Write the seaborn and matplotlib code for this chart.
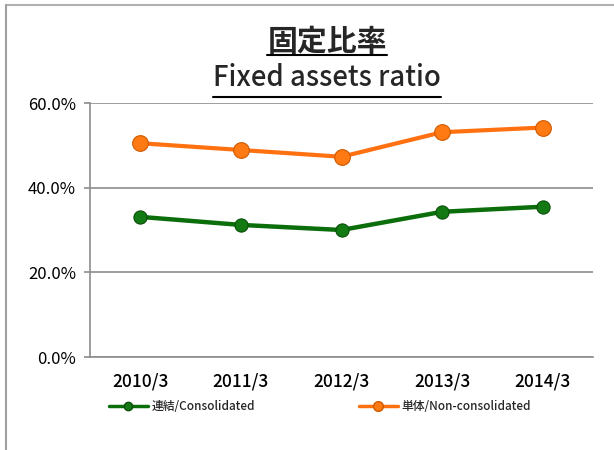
import matplotlib
matplotlib.use("Agg")
import matplotlib.pyplot as plt
from matplotlib.lines import Line2D
from matplotlib.ticker import FuncFormatter
import seaborn as sns
import pandas as pd

periods = ["2010/3", "2011/3", "2012/3", "2013/3", "2014/3"]
consolidated = [33.1, 31.2, 30.0, 34.3, 35.5]
non_consolidated = [50.5, 48.9, 47.3, 53.1, 54.2]
label_cons = "連結/Consolidated"
label_non = "単体/Non-consolidated"
title_jp = "固定比率"
title_en = "Fixed assets ratio"

sns.set_theme(style="white")
fam = ["Noto Sans CJK JP", "DejaVu Sans"]
plt.rcParams["font.family"] = fam

df = pd.DataFrame({
    "period": periods * 2,
    "value": consolidated + non_consolidated,
    "series": [label_cons] * len(periods) + [label_non] * len(periods),
})

fig = plt.figure(figsize=(6.14, 4.5), dpi=100)
ax = fig.add_axes([90 / 614, 1 - 357 / 450, (593 - 90) / 614, (357 - 103) / 450])

styles = {
    label_cons: dict(color="#0b6e0b", mfc="#137a13", mec="#0a4f0a", ms=9.5, lw=3.2),
    label_non: dict(color="#ff7010", mfc="#ff7a12", mec="#d05a00", ms=11.3, lw=3.0),
}
for name in [label_cons, label_non]:
    st = styles[name]
    sub = df[df["series"] == name]
    sns.lineplot(data=sub, x="period", y="value", ax=ax, sort=False,
                 color=st["color"], lw=st["lw"], marker="o", markersize=st["ms"],
                 markerfacecolor=st["mfc"], markeredgecolor=st["mec"], markeredgewidth=0.8,
                 label=name, legend=False)

ax.set_xlim(-0.5, len(periods) - 0.5)
ax.set_ylim(0, 60)
ax.set_yticks([0, 20, 40, 60])
ax.yaxis.set_major_formatter(FuncFormatter(lambda v, p: f"{v:.1f}%"))
ax.set_xlabel("")
ax.set_ylabel("")
ax.grid(axis="y", color="#8c8c8c", lw=1.2)
ax.set_axisbelow(True)
for s in ["top", "right"]:
    ax.spines[s].set_visible(False)
for s in ["left", "bottom"]:
    ax.spines[s].set_color("#8c8c8c")
    ax.spines[s].set_linewidth(1.2)
ax.tick_params(axis="y", left=True, length=4, color="#8c8c8c", width=1.2, pad=6)
ax.tick_params(axis="x", bottom=False, pad=5)
for t in ax.get_yticklabels():
    t.set_fontsize(12)
    t.set_color("black")
for t in ax.get_xticklabels():
    t.set_fontsize(12.5)
    t.set_fontweight("medium")
    t.set_color("black")

handles = [
    Line2D([], [], color=styles[label_cons]["color"], lw=2.5, marker="o", ms=6,
           mfc=styles[label_cons]["mfc"], mec=styles[label_cons]["mec"]),
    Line2D([], [], color=styles[label_non]["color"], lw=2.5, marker="o", ms=7,
           mfc=styles[label_non]["mfc"], mec=styles[label_non]["mec"]),
]
fig.legend(handles, [label_cons, label_non], loc="center left",
           bbox_to_anchor=(109 / 614, 1 - 407 / 450), ncol=2, frameon=False,
           prop={"family": fam, "size": 8.5, "weight": "medium"}, handlelength=3.3,
           handletextpad=0.3, columnspacing=8.8, borderpad=0, borderaxespad=0)

t1 = fig.text(327 / 614, 1 - 42 / 450, title_jp, ha="center", va="center",
              fontsize=21.5, fontweight="bold", family=fam)
t2 = fig.text(327 / 614, 1 - 78 / 450, title_en, ha="center", va="center",
              fontsize=19.8, fontweight="medium", family=fam)

# chart border (top and left)
fig.add_artist(Line2D([6 / 614, 1], [1 - 4.5 / 450, 1 - 4.5 / 450], color="#b0b0b0", lw=1.5,
                      transform=fig.transFigure))
fig.add_artist(Line2D([6 / 614, 6 / 614], [0, 1 - 4.5 / 450], color="#a0a0a0", lw=1.5,
                      transform=fig.transFigure))

# underlines under title texts
fig.canvas.draw()
r = fig.canvas.get_renderer()
for t, uy in [(t1, 55), (t2, 97)]:
    bb = t.get_window_extent(r).transformed(fig.transFigure.inverted())
    fig.add_artist(Line2D([bb.x0, bb.x1], [1 - uy / 450, 1 - uy / 450], color="black", lw=1.5,
                          transform=fig.transFigure))

fig.savefig("out.png", dpi=100)
